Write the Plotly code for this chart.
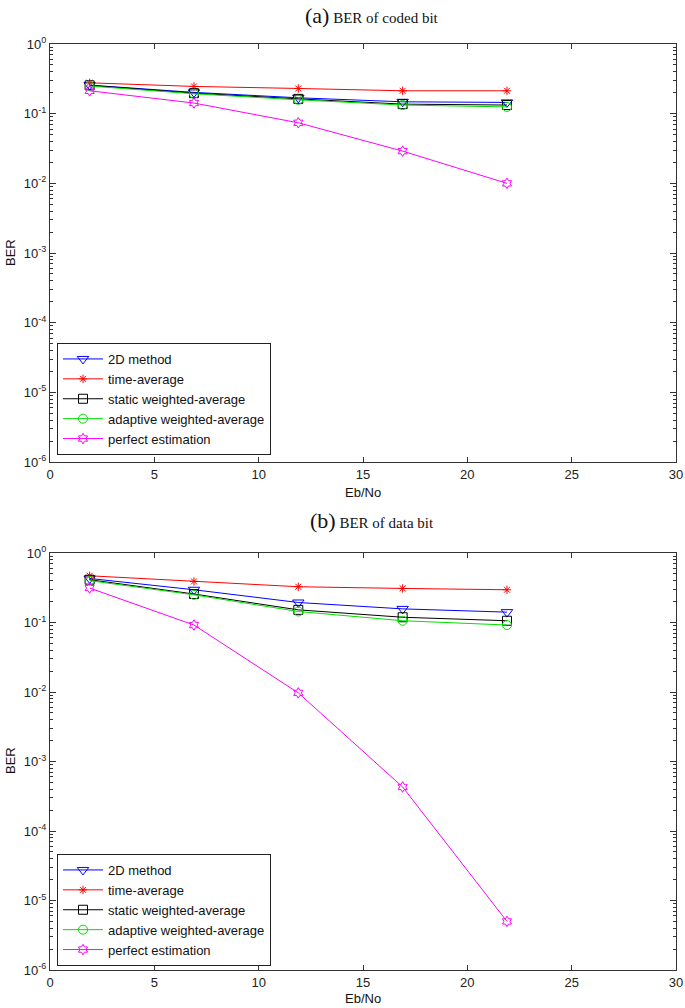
import plotly.graph_objects as go

ebno = [1.9, 6.9, 11.9, 16.9, 21.9]

names = ["2D method", "time-average", "static weighted-average",
         "adaptive weighted-average", "perfect estimation"]

# (a) BER of coded bit
coded_2d = [0.257, 0.202, 0.169, 0.148, 0.145]
coded_time = [0.277, 0.246, 0.230, 0.213, 0.213]
coded_static = [0.255, 0.197, 0.163, 0.137, 0.133]
coded_adaptive = [0.249, 0.193, 0.158, 0.133, 0.125]
coded_perfect = [0.213, 0.142, 0.074, 0.029, 0.010]

# (b) BER of data bit
data_2d = [0.43, 0.296, 0.194, 0.157, 0.141]
data_time = [0.47, 0.39, 0.327, 0.309, 0.296]
data_static = [0.413, 0.257, 0.152, 0.119, 0.106]
data_adaptive = [0.40, 0.25, 0.144, 0.106, 0.092]
data_perfect = [0.313, 0.092, 0.0097, 0.00043, 0.000005]

colors = ["#0000ff", "#ff0000", "#000000", "#00e000", "#ff00ff"]
symbols = ["triangle-down-open", "asterisk-open", "square-open", "circle-open", "hexagram-open"]
sizes = [10, 7, 9, 9, 8]

ytickvals = [10.0 ** p for p in range(-6, 1)]
yticktext = ["10<sup>%d</sup>" % p for p in range(-6, 1)]
yminor = [k * 10.0 ** p for p in range(-6, 0) for k in range(2, 10)]
xticks = [0, 5, 10, 15, 20, 25, 30]

W, H = 685, 1008
fig = go.Figure()

panels = [
    ([coded_2d, coded_time, coded_static, coded_adaptive, coded_perfect], "x", "y", "legend"),
    ([data_2d, data_time, data_static, data_adaptive, data_perfect], "x2", "y2", "legend2"),
]
for series, xa, ya, lg in panels:
    for i, vals in enumerate(series):
        fig.add_trace(go.Scatter(
            x=ebno, y=vals, name=names[i], mode="lines+markers",
            xaxis=xa, yaxis=ya, legend=lg,
            line=dict(color=colors[i], width=1),
            marker=dict(symbol=symbols[i], size=sizes[i], color=colors[i],
                        line=dict(color=colors[i], width=1)),
        ))

xdom = [50 / W, 676 / W]
ydom_a = [1 - 462 / H, 1 - 44 / H]
ydom_b = [1 - 970 / H, 1 - 553 / H]

tickfont = dict(family="Liberation Sans, Arial, sans-serif", size=13, color="#222")

def xaxis(dom, anchor):
    return dict(domain=dom, anchor=anchor, range=[0, 30], tickmode="array",
                tickvals=xticks, ticks="inside", ticklen=5, tickcolor="#333",
                showline=True, linecolor="#333", linewidth=1, mirror="ticks",
                showgrid=False, zeroline=False, tickfont=tickfont, automargin=False,
                ticklabeloverflow="allow")

def yaxis(dom, anchor):
    return dict(domain=dom, anchor=anchor, type="log", range=[-6, 0],
                tickmode="array", tickvals=ytickvals, ticktext=yticktext,
                ticks="inside", ticklen=6, tickcolor="#333",
                minor=dict(tickmode="array", tickvals=yminor, ticks="inside",
                           ticklen=3, tickcolor="#333", showgrid=False),
                showline=True, linecolor="#333", linewidth=1, mirror="ticks",
                showgrid=False, zeroline=False, tickfont=tickfont, automargin=False,
                ticklabeloverflow="allow")

legfont = dict(family="Liberation Sans, Arial, sans-serif", size=13, color="#111")

def legend(ybottom):
    return dict(x=57 / W, y=1 - ybottom / H, xanchor="left", yanchor="bottom",
                bgcolor="white", bordercolor="#222", borderwidth=1,
                font=legfont, itemwidth=40, tracegroupgap=0, itemsizing="trace")

fig.update_layout(
    width=W, height=H, margin=dict(l=0, r=0, t=0, b=0),
    paper_bgcolor="white", plot_bgcolor="white", showlegend=True,
    xaxis=xaxis(xdom, "y"), yaxis=yaxis(ydom_a, "x"),
    xaxis2=xaxis(xdom, "y2"), yaxis2=yaxis(ydom_b, "x2"),
    legend=legend(455), legend2=legend(966),
)

serif = "Liberation Serif, Times New Roman, serif"
sans = "Liberation Sans, Arial, sans-serif"
annos = [
    dict(text="<span style='font-size:22px'>(a)</span> BER of coded bit", x=372 / W, y=1 - 16 / H),
    dict(text="<span style='font-size:22px'>(b)</span> BER of data bit", x=372 / W, y=1 - 520 / H),
]
for a in annos:
    fig.add_annotation(text=a["text"], x=a["x"], y=a["y"], xref="paper", yref="paper",
                       showarrow=False, xanchor="center", yanchor="middle",
                       font=dict(family=serif, size=15, color="#111"))
for yy in [492, 998]:
    fig.add_annotation(text="Eb/No", x=363 / W, y=1 - yy / H, xref="paper", yref="paper",
                       showarrow=False, xanchor="center", yanchor="middle",
                       font=dict(family=sans, size=13, color="#111"))
for yy in [253, 761]:
    fig.add_annotation(text="BER", x=10 / W, y=1 - yy / H, xref="paper", yref="paper",
                       showarrow=False, xanchor="center", yanchor="middle", textangle=-90,
                       font=dict(family=sans, size=13, color="#111"))

fig.write_html("out.html", config={"displayModeBar": False},
               post_script="document.body.style.margin='0';document.body.style.overflow='hidden';")
